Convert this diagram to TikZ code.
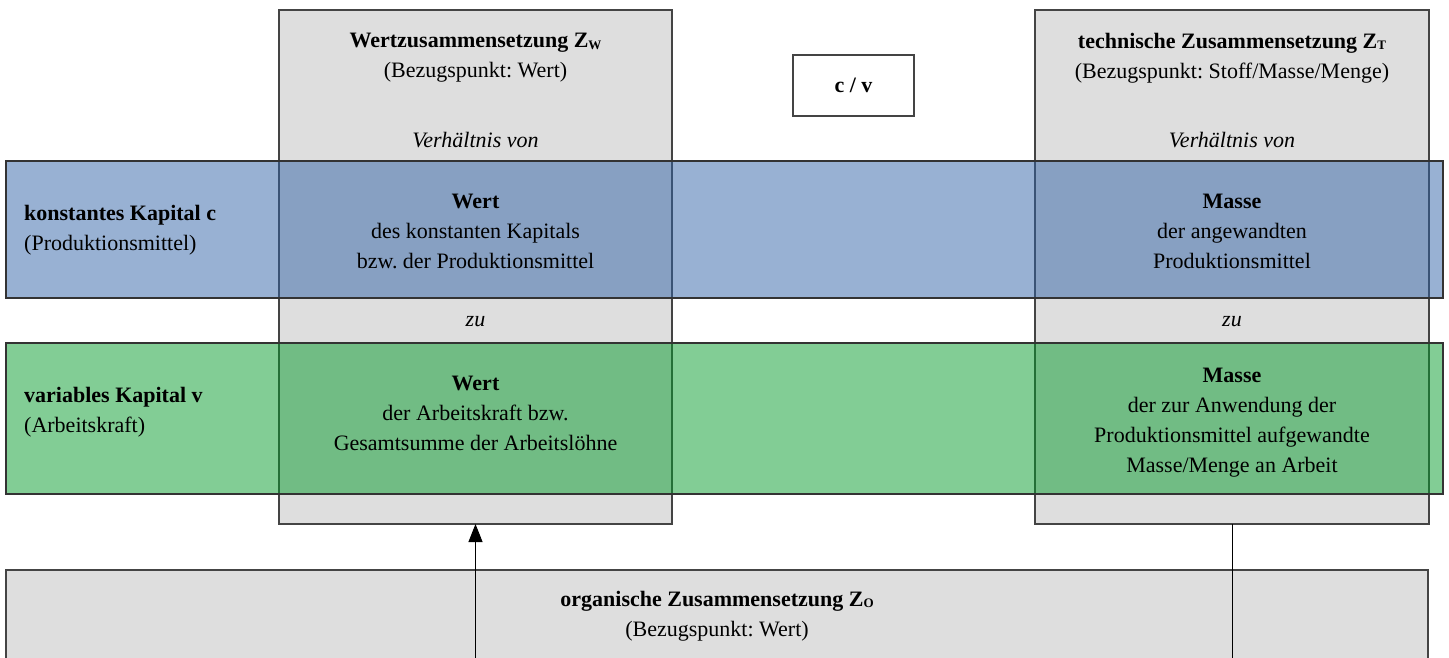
\documentclass[tikz,border=0pt]{standalone}
\usepackage{fontspec}
\setmainfont{Liberation Serif}
\usetikzlibrary{arrows.meta}
\frenchspacing
\definecolor{boxgray}{HTML}{DEDEDE}
\definecolor{edgegray}{HTML}{444444}
\definecolor{bandblue}{HTML}{3163A7}
\definecolor{bandgreen}{HTML}{059B2B}
\newcommand{\subZ}[1]{\raisebox{-1.5pt}{\fontsize{13}{13}\selectfont #1}}
\tikzset{
  colbox/.style={draw=edgegray, fill=boxgray, line width=1.1pt, anchor=north west, inner sep=0pt, outer sep=0pt},
  bandbox/.style={draw=black!80, line width=1.1pt, fill opacity=0.5, anchor=north west, inner sep=0pt, outer sep=0pt},
  cvbox/.style={draw=edgegray, fill=white, line width=1.1pt, anchor=north west, inner sep=0pt, outer sep=0pt},
  txt/.style={align=center, font=\fontsize{22}{30}\selectfont\frenchspacing, inner sep=0pt},
  lbl/.style={align=left, anchor=west, font=\fontsize{22}{30}\selectfont\frenchspacing, inner sep=0pt},
  conn/.style={line width=1pt, -{Triangle[length=18pt,width=14pt]}}
}
\begin{document}
\begin{tikzpicture}[x=1pt,y=-1pt]
\useasboundingbox (0,0) rectangle (1449,658);
\clip (0,0) rectangle (1449,658);
% boxes
\node[colbox, minimum width=1422pt, minimum height=150pt] (org) at (6,570) {};
\node[colbox, minimum width=393pt, minimum height=514pt] (colL) at (279,10) {};
\node[colbox, minimum width=394pt, minimum height=514pt] (colR) at (1035,10) {};
\node[bandbox, fill=bandblue, minimum width=1437pt, minimum height=137pt] (bandC) at (6,161) {};
\node[bandbox, fill=bandgreen, minimum width=1437pt, minimum height=151pt] (bandV) at (6,343) {};
\node[cvbox, minimum width=121pt, minimum height=61pt] (cv) at (793,55) {};
% texts
\node[txt] (tL) at (475.5,58) {\textbf{Wertzusammensetzung Z\subZ{W}}\\(Bezugspunkt: Wert)};
\node[txt] (tR) at (1232,58) {\textbf{technische Zusammensetzung Z\subZ{T}}\\(Bezugspunkt: Stoff/Masse/Menge)};
\node[txt] (cvt) at (cv.center) {\textbf{c / v}};
\node[txt] (vL) at (475.5,140) {\textit{Verhältnis von}};
\node[txt] (vR) at (1232,140) {\textit{Verhältnis von}};
\node[lbl] (lc) at (24,230) {\textbf{konstantes Kapital c}\\(Produktionsmittel)};
\node[txt] (cL) at (475.5,231) {\textbf{Wert}\\des konstanten Kapitals\\bzw. der Produktionsmittel};
\node[txt] (cR) at (1232,231) {\textbf{Masse}\\der angewandten\\Produktionsmittel};
\node[txt] (zL) at (475.5,322) {\textit{zu}};
\node[txt] (zR) at (1232,322) {\textit{zu}};
\node[lbl] (lv) at (24,412) {\textbf{variables Kapital v}\\(Arbeitskraft)};
\node[txt] (gL) at (475.5,413) {\textbf{Wert}\\der Arbeitskraft bzw.\\Gesamtsumme der Arbeitslöhne};
\node[txt] (gR) at (1232,423) {\textbf{Masse}\\der zur Anwendung der\\Produktionsmittel aufgewandte\\Masse/Menge an Arbeit};
\node[txt] (ot) at (717,616) {\textbf{organische Zusammensetzung Z\subZ{O}}\\(Bezugspunkt: Wert)};
% connector
\draw[conn] (colR.south) -- ++(0,220) -| (colL.south);
\end{tikzpicture}
\end{document}
